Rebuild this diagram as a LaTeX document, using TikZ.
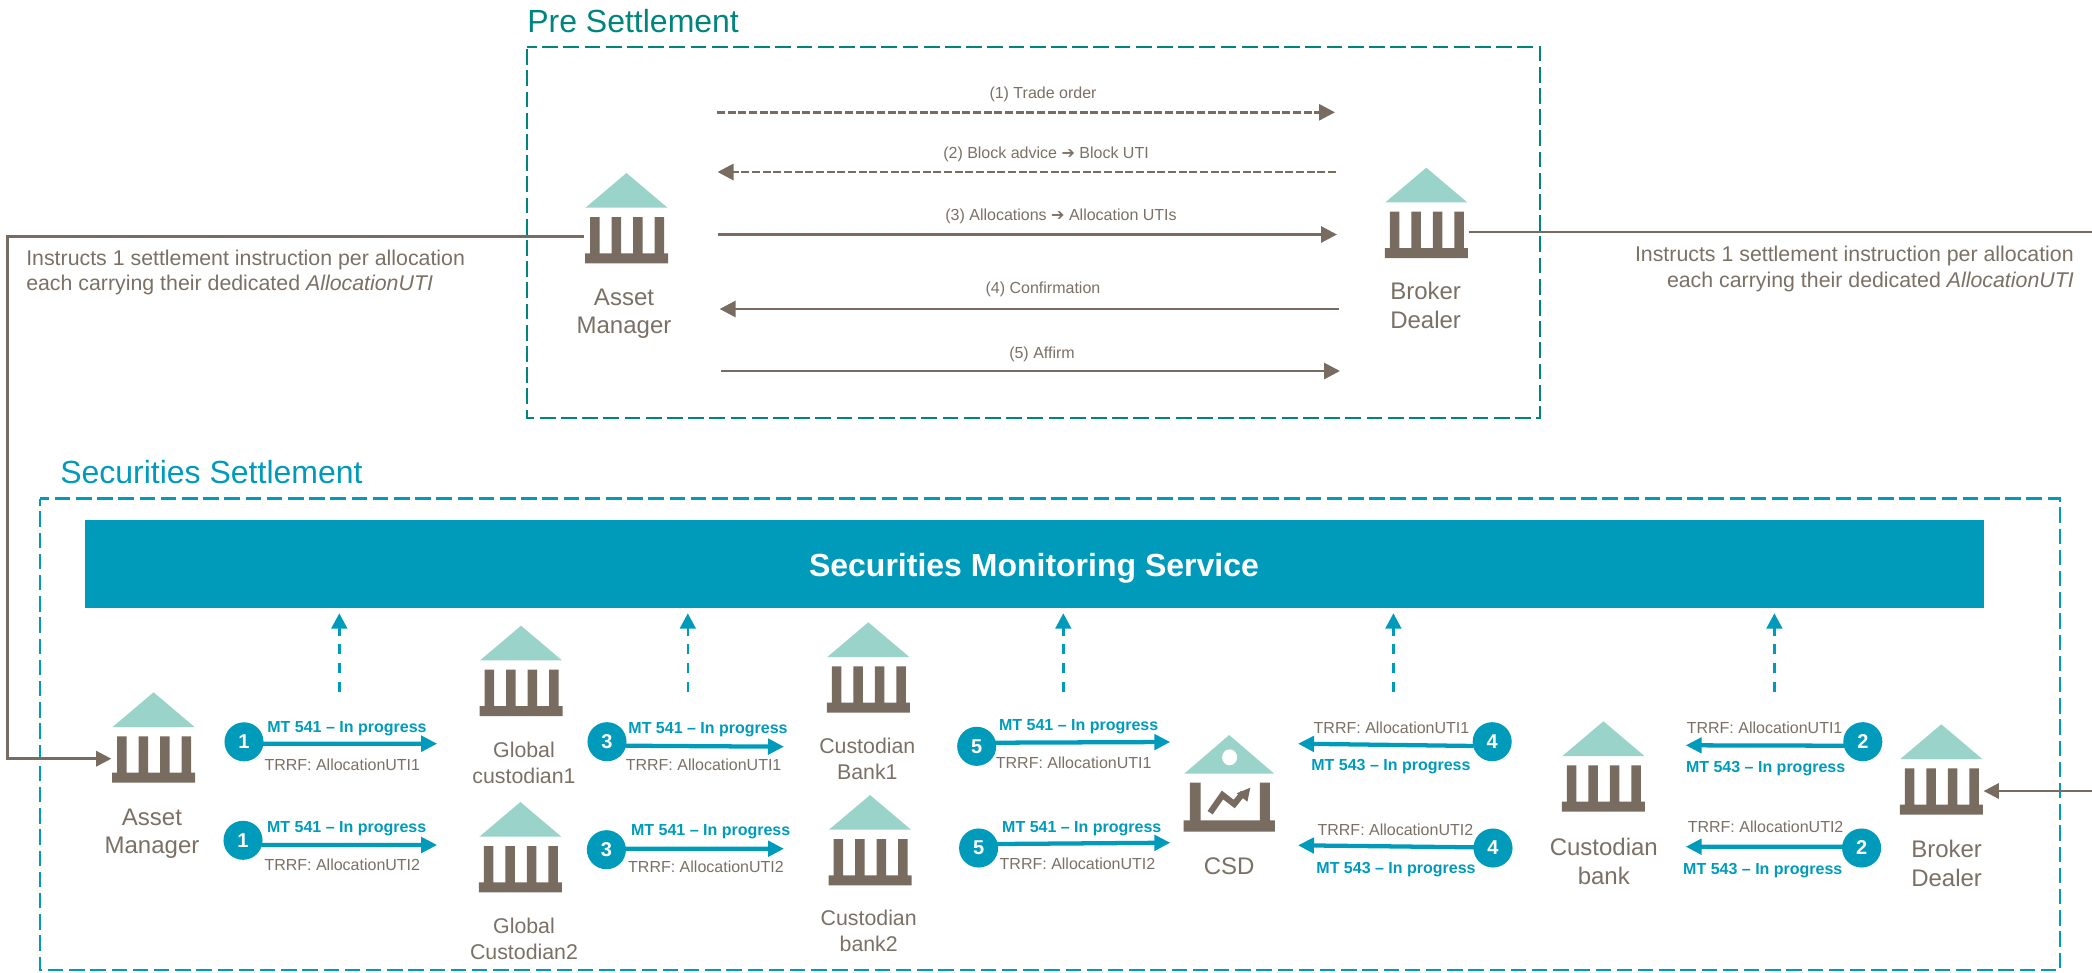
\documentclass[tikz,border=0pt]{standalone}
\usepackage{fontspec}
\setmainfont{Liberation Sans}
\newfontfamily\dejavu{DejaVu Sans}
\usetikzlibrary{arrows.meta,calc}
\definecolor{taupe}{HTML}{786C60}
\definecolor{roof}{HTML}{99D3C9}
\definecolor{tealbox}{HTML}{00857D}
\definecolor{bluemain}{HTML}{009BBB}
\definecolor{txtgray}{HTML}{7B7065}
\tikzset{
  iconbox/.style={inner sep=0pt,minimum width=63pt,minimum height=67.7pt,anchor=north},
  smalltxt/.style={inner sep=0pt,yshift=-1.4pt,text=txtgray,text height=.72em,text depth=.2em,font=\fontsize{12pt}{14.4pt}\selectfont},
  mtlabel/.style={inner sep=0pt,yshift=-1.4pt,text=bluemain,text height=.72em,text depth=.2em,font=\bfseries\fontsize{12pt}{14.4pt}\selectfont},
  namesm/.style={inner sep=0pt,yshift=-.8pt,align=center,text=txtgray,font=\fontsize{16pt}{19.2pt}\selectfont},
  namelg/.style={inner sep=0pt,yshift=-2pt,align=center,text=txtgray,font=\fontsize{18pt}{21.6pt}\selectfont},
  notetxt/.style={inner sep=0pt,text=txtgray,font=\fontsize{16pt}{19.2pt}\selectfont},
  numcircle/.style={circle,fill=bluemain,inner sep=0pt,minimum size=29.3pt,text=white,font=\bfseries\fontsize{15pt}{17pt}\selectfont},
  preline/.style={draw=taupe,line width=2.2pt,-{Triangle[length=12pt,width=12pt]}},
  predash/.style={preline,dash pattern=on 6pt off 2pt},
  linkline/.style={draw=taupe,line width=2pt},
  linkarrow/.style={linkline,-{Triangle[length=11.5pt,width=11.5pt]}},
  msgarrow/.style={draw=bluemain,line width=3.2pt,-{Triangle[length=12pt,width=11.5pt]}},
  uparrow/.style={draw=bluemain,line width=1.9pt,dash pattern=on 7.5pt off 6.5pt,-{Triangle[length=11.5pt,width=11.8pt]}},
  prebox/.style={draw=tealbox,line width=1.6pt,dash pattern=on 11.8pt off 4.1pt,dash phase=4.5pt},
  lowbox/.style={draw=bluemain,line width=1.6pt,dash pattern=on 11.6pt off 4.3pt,dash phase=5pt},
}
% #1 name, #2 apex x, #3 apex y
\newcommand{\bankicon}[3]{%
  \begin{scope}[shift={(#2,#3)}]
    \node[iconbox] (#1) at (0,0) {};
    \fill[roof] (0,0) -- (41,34.7) -- (-41,34.7) -- cycle;
    \fill[taupe] (-36.5,44) rectangle (-27,81) (-15,44) rectangle (-5.5,81)
                 (6.5,44) rectangle (16,81) (28,44) rectangle (37.5,81)
                 (-41.5,80.3) rectangle (41.5,90.3);
  \end{scope}}
\begin{document}
\begin{tikzpicture}[x=.75pt,y=-.75pt]
\useasboundingbox (0,0) rectangle (2092,972);

% frames and titles
\draw[prebox] (527,47) -- (1540,47) -- (1540,418) -- (527,418) -- cycle;
\draw[lowbox] (40.3,498.5) -- (2060,498.5) -- (2060,970) -- (40.3,970) -- cycle;
\node[anchor=west,inner sep=0pt,text=tealbox,font=\fontsize{24pt}{28pt}\selectfont] (titlePre) at (527,21) {Pre Settlement};
\node[anchor=west,inner sep=0pt,text=bluemain,font=\fontsize{24pt}{28pt}\selectfont] (titleLow) at (60,472) {Securities Settlement};

% banner
\fill[bluemain] (85,520) rectangle (1984,607.7);
\node[inner sep=0pt,text=white,font=\bfseries\fontsize{24pt}{28pt}\selectfont] (banner) at (1034,568) {Securities Monitoring Service};

% icons
\bankicon{amPre}{626.5}{173}
\bankicon{bdPre}{1426.3}{167.7}
\bankicon{amLow}{153.6}{692.3}
\bankicon{gc1}{521}{625.7}
\bankicon{gc2}{520.4}{802}
\bankicon{cb1}{868.3}{622.3}
\bankicon{cb2}{870}{795}
\bankicon{cbk}{1603.4}{721.3}
\bankicon{bdLow}{1941.3}{724.3}

% CSD icon
\begin{scope}[shift={(1229.2,735)}]
  \node[iconbox,minimum width=68pt,minimum height=72pt] (csd) at (0,0) {};
  \fill[roof] (0,0) -- (45,38.7) -- (-45,38.7) -- cycle;
  \fill[white] (0.4,22.3) ellipse (7.5 and 8);
  \fill[taupe] (-39.4,47.7) rectangle (-28.6,86) (30.7,47.7) rectangle (40.6,86)
               (-45.6,85.3) rectangle (45.6,96.7);
  \draw[taupe,line width=4.6pt,miter limit=3] (-19.1,77.7) -- (-6.7,60) -- (5,69) -- (14.1,57.7);
  \fill[taupe] (21.1,52.7) -- (7.5,58.3) -- (18.2,66.7) -- cycle;
\end{scope}

% names
\node[namelg] (nAmPre) at (624,311) {Asset\\Manager};
\node[namelg] (nBdPre) at (1425.6,303) {Broker\\Dealer};
\node[namelg] (nAmLow) at (152,831) {Asset\\Manager};
\node[namesm] (nGc1) at (524,761.5) {Global\\custodian1};
\node[namesm] (nGc2) at (524,937.5) {Global\\Custodian2};
\node[namesm] (nCb1) at (867.3,757.5) {Custodian\\Bank1};
\node[namesm] (nCb2) at (868.7,930) {Custodian\\bank2};
\node[namelg] (nCsd) at (1229.2,863.7) {CSD};
\node[namelg] (nCbk) at (1603.8,858.5) {Custodian\\bank};
\node[namelg] (nBdLow) at (1946.6,861) {Broker\\Dealer};

% pre-settlement arrows
\coordinate (p1s) at (717,112.3);   \coordinate (p1e) at (1335,112.3);
\coordinate (p2s) at (1336,172);    \coordinate (p2e) at (717.5,172);
\coordinate (p3s) at (718,234.5);   \coordinate (p3e) at (1337,234.5);
\coordinate (p4s) at (1338.6,309);  \coordinate (p4e) at (719.6,309);
\coordinate (p5s) at (721,371);     \coordinate (p5e) at (1340,371);
\draw[predash] (p1s) -- (p1e);
\draw[predash] (p2s) -- (p2e);
\draw[preline] (p3s) -- (p3e);
\draw[preline] (p4s) -- (p4e);
\draw[preline] (p5s) -- (p5e);
\node[smalltxt] (l1) at (1043,92.7) {(1) Trade order};
\node[smalltxt] (l2) at (1046,152.7) {(2) Block advice {\dejavu ➔} Block UTI};
\node[smalltxt] (l3) at (1061,215) {(3) Allocations {\dejavu ➔} Allocation UTIs};
\node[smalltxt] (l4) at (1043,288) {(4) Confirmation};
\node[smalltxt] (l5) at (1042,352.7) {(5) Affirm};

% links between the two sections
\coordinate (elbowTop) at (7.3,236.7);
\coordinate (elbowBot) at (7.3,758.7);
\coordinate (rightOut) at (2092,232);
\coordinate (rightIn) at (2092,791);
\draw[linkarrow] (elbowTop -| amPre.west) -- (elbowTop) -- (elbowBot) -- (elbowBot -| amLow.west);
\draw[linkline] (rightOut -| bdPre.east) -- (rightOut);
\draw[linkarrow] (rightIn) -- (rightIn -| bdLow.east);
\node[notetxt,anchor=west,align=left] (noteL) at (26,272.5) {Instructs 1 settlement instruction per allocation\\each carrying their dedicated \textit{AllocationUTI}};
\node[notetxt,anchor=east,align=right] (noteR) at (2074,269) {Instructs 1 settlement instruction per allocation\\each carrying their dedicated \textit{AllocationUTI}};

% dashed reports up to the monitoring service
\foreach \n/\x in {u1/339.3,u2/687.8,u3/1063.3,u4/1393.4,u5/1774.4}{
  \coordinate (\n s) at (\x,691.7);
  \coordinate (\n e) at (\x,613.3);
  \draw[uparrow] (\n s) -- (\n e);
}

% numbered circles
\node[numcircle] (c1a) at (244,741.8) {1};
\node[numcircle] (c1b) at (243,840.3) {1};
\node[numcircle] (c3a) at (607,741.7) {3};
\node[numcircle] (c3b) at (606.4,849.7) {3};
\node[numcircle] (c5a) at (976.7,746.3) {5};
\node[numcircle] (c5b) at (978.6,848) {5};
\node[numcircle] (c4a) at (1492.2,741.7) {4};
\node[numcircle] (c4b) at (1493,848) {4};
\node[numcircle] (c2a) at (1862.8,741.7) {2};
\node[numcircle] (c2b) at (1861.6,848) {2};

% message arrows
\coordinate (t1a) at (437.2,743.7);
\coordinate (t1b) at (437.2,845);
\coordinate (t3a) at (784,746.7);
\coordinate (t3b) at (784,848.7);
\coordinate (t5a) at (1170.3,742);
\coordinate (t5b) at (1170.3,842.7);
\coordinate (t4a) at (1298,743.7);
\coordinate (t4b) at (1298,845.3);
\coordinate (t2a) at (1685.7,745.3);
\coordinate (t2b) at (1685.7,846.7);
\draw[msgarrow] ([xshift=-1pt,yshift=-1.4pt]c1a.east) -- (t1a);
\draw[msgarrow] ([xshift=-1pt,yshift=-3.5pt]c1b.east) -- (t1b);
\draw[msgarrow] ([xshift=-1pt,yshift=-3pt]c3a.east) -- (t3a);
\draw[msgarrow] ([xshift=-1pt,yshift=.7pt]c3b.east) -- (t3b);
\draw[msgarrow] ([xshift=-1pt,yshift=2.7pt]c5a.east) -- (t5a);
\draw[msgarrow] ([xshift=-1pt,yshift=3pt]c5b.east) -- (t5b);
\draw[msgarrow] ([xshift=1pt,yshift=-3.2pt]c4a.west) -- (t4a);
\draw[msgarrow] ([xshift=1pt,yshift=.5pt]c4b.west) -- (t4b);
\draw[msgarrow] ([xshift=1pt,yshift=-3pt]c2a.west) -- (t2a);
\draw[msgarrow] ([xshift=1pt,yshift=1pt]c2b.west) -- (t2b);

% message labels
\node[mtlabel] (m1a) at (347,727) {MT 541 – In progress};
\node[smalltxt] (r1a) at (342.3,764.7) {TRRF: AllocationUTI1};
\node[mtlabel] (m1b) at (346.7,827) {MT 541 – In progress};
\node[smalltxt] (r1b) at (342.3,864.7) {TRRF: AllocationUTI2};
\node[mtlabel] (m3a) at (708,728) {MT 541 – In progress};
\node[smalltxt] (r3a) at (703.6,765.3) {TRRF: AllocationUTI1};
\node[mtlabel] (m3b) at (710.7,830) {MT 541 – In progress};
\node[smalltxt] (r3b) at (706,866.7) {TRRF: AllocationUTI2};
\node[mtlabel] (m5a) at (1078.7,724.7) {MT 541 – In progress};
\node[smalltxt] (r5a) at (1073.7,762.7) {TRRF: AllocationUTI1};
\node[mtlabel] (m5b) at (1081.8,826.7) {MT 541 – In progress};
\node[smalltxt] (r5b) at (1077.5,864.3) {TRRF: AllocationUTI2};
\node[smalltxt] (r4a) at (1391.5,728.3) {TRRF: AllocationUTI1};
\node[mtlabel] (m4a) at (1390.9,765) {MT 543 – In progress};
\node[smalltxt] (r4b) at (1395.4,830.3) {TRRF: AllocationUTI2};
\node[mtlabel] (m4b) at (1396,868) {MT 543 – In progress};
\node[smalltxt] (r2a) at (1764.6,727.7) {TRRF: AllocationUTI1};
\node[mtlabel] (m2a) at (1765.6,767) {MT 543 – In progress};
\node[smalltxt] (r2b) at (1765.6,827.3) {TRRF: AllocationUTI2};
\node[mtlabel] (m2b) at (1762.8,868.7) {MT 543 – In progress};
\end{tikzpicture}
\end{document}
